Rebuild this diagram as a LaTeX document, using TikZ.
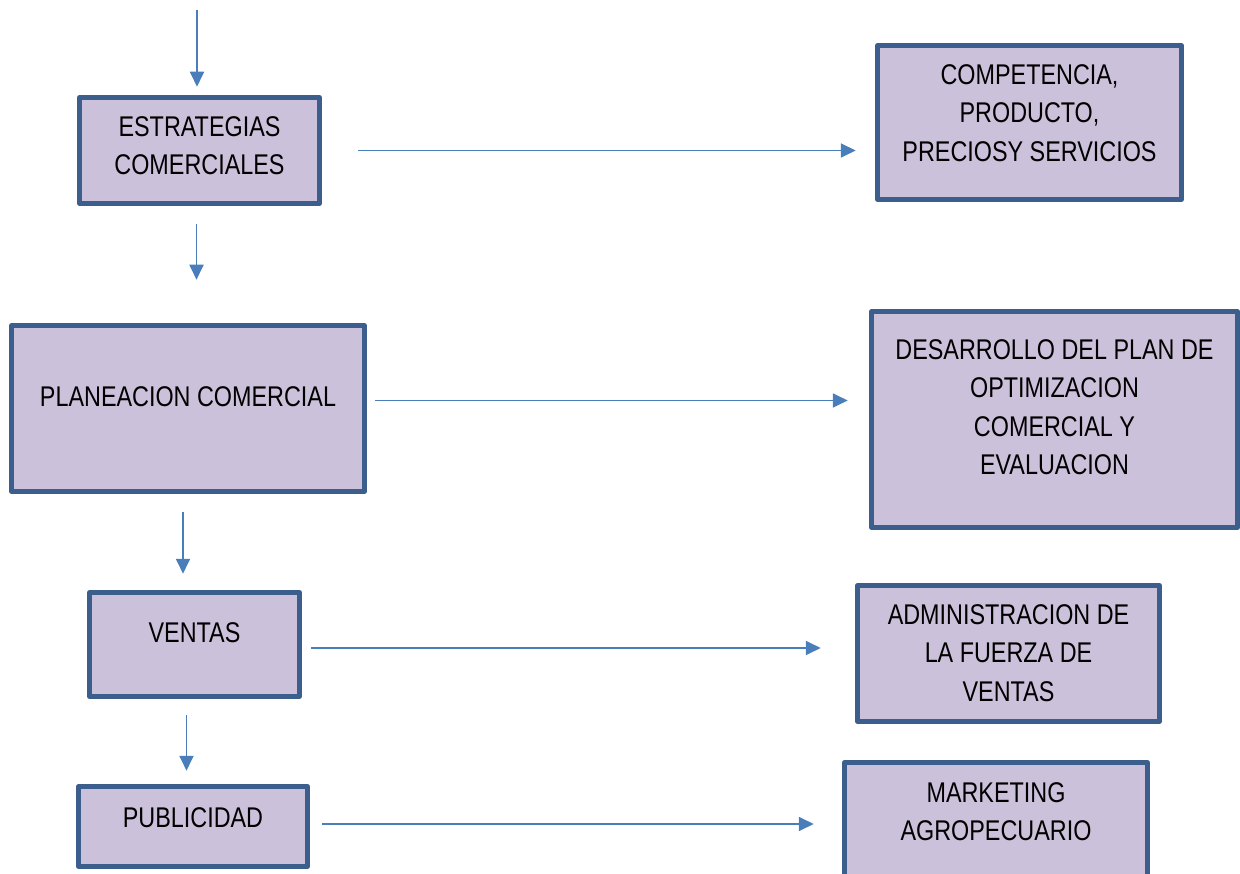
\documentclass[tikz,border=0pt]{standalone}
\usepackage{fontspec}
\setmainfont{Liberation Sans}[FakeStretch=0.82]
\usetikzlibrary{arrows.meta}

\definecolor{lila}{RGB}{204,193,218}
\definecolor{borde}{RGB}{59,94,140}
\definecolor{flecha}{RGB}{74,126,187}

% text placed from the top of a box: width, height, top gap, lines
\newcommand{\boxtext}[4]{\parbox[c][#2][t]{#1}{\centering\vspace*{#3}#4}}

\begin{document}
\begin{tikzpicture}[x=1pt, y=-1pt]
\tikzstyle{box}=[rectangle, draw=borde, fill=lila, line width=4.5pt, line join=round, inner sep=0pt, font=\fontsize{28.5pt}{38.5pt}\selectfont]
\tikzstyle{connect}=[-{Triangle[length=15pt, width=14pt]}, draw=flecha, line width=1.8pt]
    \useasboundingbox (0,0) rectangle (1240,874);
    \clip (0,0) rectangle (1240,874);

    % left column
    \node[box] (estr)   at (199.5,150.5) {\boxtext{240pt}{106pt}{19pt}{ESTRATEGIAS\\COMERCIALES}};
    \node[box] (plan)   at (188,408.5)   {\boxtext{353pt}{166pt}{61pt}{PLANEACION COMERCIAL}};
    \node[box] (ventas) at (194.5,644.5) {\boxtext{210pt}{104pt}{30pt}{VENTAS}};
    \node[box] (publi)  at (193,826.5)   {\boxtext{229pt}{80pt}{21pt}{PUBLICIDAD}};

    % right column
    \node[box] (compe)  at (1029.5,122.5) {\boxtext{304pt}{154pt}{19pt}{COMPETENCIA,\\PRODUCTO,\\PRECIOSY SERVICIOS}};
    \node[box] (desarr) at (1054.5,419.5) {\boxtext{366pt}{216pt}{28pt}{DESARROLLO DEL PLAN DE\\OPTIMIZACION\\COMERCIAL Y\\EVALUACION}};
    \node[box] (admin)  at (1008.5,653.5) {\boxtext{302pt}{136pt}{19pt}{ADMINISTRACION DE\\LA FUERZA DE\\VENTAS}};
    \node[box] (market) at (996,821)      {\boxtext{303pt}{117pt}{20pt}{MARKETING\\AGROPECUARIO}};

    \coordinate (inicio) at (197,10);

    % down the left column
    \draw[connect, shorten >=8.5pt] (inicio) -- (inicio |- estr.north);
    \draw[connect, shorten <=18.5pt, shorten >=43.5pt] ([xshift=-3pt]estr.south) -- ([xshift=-3pt]estr.south |- plan.north);
    \draw[connect, shorten <=18.5pt, shorten >=16.5pt] ([xshift=-5pt]plan.south) -- ([xshift=-5pt]plan.south |- ventas.north);
    \draw[connect, shorten <=16.5pt, shorten >=13.5pt] ([xshift=-8pt]ventas.south) -- ([xshift=-8pt]ventas.south |- publi.north);

    % across to the right column
    \draw[connect, shorten <=36.5pt, shorten >=19.5pt] (estr.east) -- (estr.east -| compe.west);
    \draw[connect, shorten <=8.5pt, shorten >=21.5pt] ([yshift=8pt]plan.east) -- ([yshift=8pt]plan.east -| desarr.west);
    \draw[connect, shorten <=9.5pt, shorten >=34.5pt] ([yshift=-3.5pt]ventas.east) -- ([yshift=-3.5pt]ventas.east -| admin.west);
    \draw[connect, shorten <=12.5pt, shorten >=28.5pt] ([yshift=2.5pt]publi.east) -- ([yshift=2.5pt]publi.east -| market.west);
\end{tikzpicture}
\end{document}
